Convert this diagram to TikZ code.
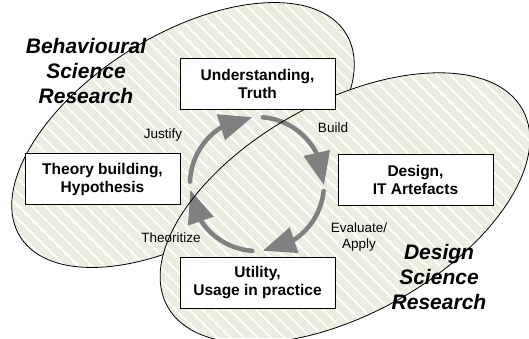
\documentclass[tikz,border=0pt]{standalone}
\usepackage{fontspec}
\setmainfont{Liberation Sans}
\usetikzlibrary{arrows.meta,bending}
\definecolor{areafill}{HTML}{ECEDE1}
\definecolor{cyclegrey}{HTML}{808080}
\tikzset{
  hatch/.style={draw=white, line width=1.7pt},
  rim/.style={draw=black, line width=0.8pt},
  stage/.style={draw=black, line width=0.9pt, fill=white, minimum width=155pt,
    minimum height=51pt, inner sep=0pt, align=center,
    font=\fontsize{15.5}{18}\selectfont\bfseries},
  verb/.style={align=center, inner sep=0pt, font=\fontsize{13.5}{16}\selectfont},
  field/.style={align=center, inner sep=0pt, font=\fontsize{21}{25}\selectfont\bfseries\itshape},
  cycle/.style={draw=cyclegrey, line width=4.5pt, line cap=round,
    -{Triangle[length=33pt,width=26pt,flex]}}
}
% tinted ground with diagonal white hatching over the whole canvas (used under a clip)
\newcommand\hatchedground{%
  \fill[areafill] (0,0) rectangle (529,338);
  \foreach \k in {-26,...,40} {\draw[hatch] (\k*13.4,0) -- ++(338,338);}%
}
\begin{document}
\begin{tikzpicture}[x=1pt,y=-1pt]
  \path[fill=white] (0,0) rectangle (529,338);
  \useasboundingbox (0,0) rectangle (529,338);

  % behavioural science area
  \begin{scope}
    \clip[rotate around={32:(183,135)}] (183,135) ellipse [x radius=192pt, y radius=100pt];
    \hatchedground
  \end{scope}
  \draw[rim, rotate around={32:(183,135)}] (183,135) ellipse [x radius=192pt, y radius=100pt];

  % design science area, laid over the first
  \begin{scope}
    \clip[rotate around={29:(345,208)}] (345,208) ellipse [x radius=203pt, y radius=106pt];
    \hatchedground
  \end{scope}

  % research cycle
  \coordinate (c) at (257,184);
  \draw[cycle] ([shift={(178:67pt)}]c) arc[start angle=178, end angle=94, radius=67pt];
  \draw[cycle] ([shift={(85:67pt)}]c) arc[start angle=85, end angle=-1, radius=67pt];
  \draw[cycle] ([shift={(-6:67pt)}]c) arc[start angle=-6, end angle=-85, radius=67pt];
  \draw[cycle] ([shift={(-94:67pt)}]c) arc[start angle=-94, end angle=-175, radius=67pt];

  % activity labels
  \node[verb] (justify) at (163,135) {Justify};
  \node[verb] (build) at (333,128) {Build};
  \node[verb] (evaluate) at (359,237) {Evaluate/\\Apply};
  \node[verb] (theorize) at (171,238) {Theoritize};

  % field labels
  \node[field] (bsr) at (86,70.5) {Behavioural\\Science\\Research};
  \node[field] (dsr) at (439,277) {Design\\Science\\Research};

  \draw[rim, rotate around={29:(345,208)}] (345,208) ellipse [x radius=203pt, y radius=106pt];

  % stages
  \node[stage] (truth) at (257.5,83.5) {Understanding,\\Truth};
  \node[stage] (theory) at (102.5,179) {Theory building,\\Hypothesis};
  \node[stage] (design) at (415.5,180) {Design,\\IT Artefacts};
  \node[stage] (utility) at (257.5,283) {Utility,\\Usage in practice};
\end{tikzpicture}
\end{document}
